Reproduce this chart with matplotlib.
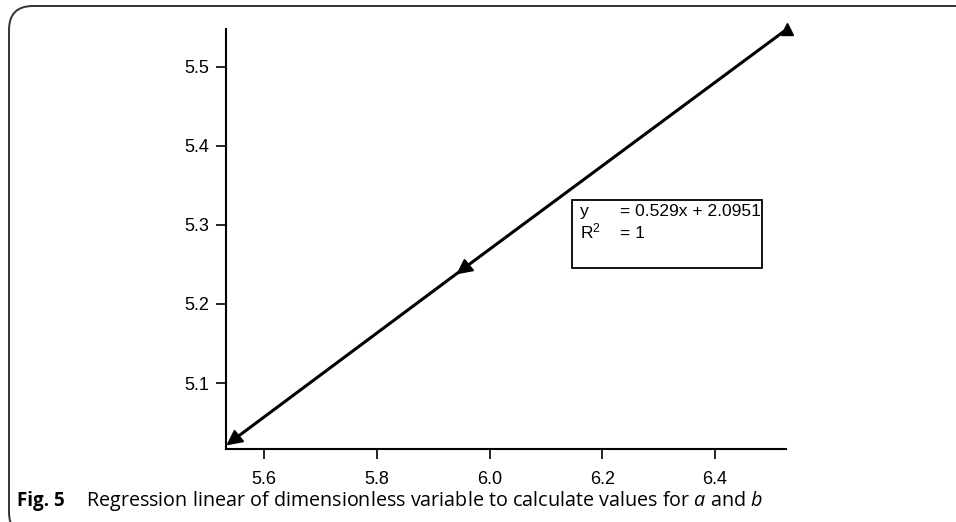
import numpy as np
import matplotlib.pyplot as plt
from matplotlib.markers import MarkerStyle
from matplotlib.transforms import Affine2D
from matplotlib.patches import FancyBboxPatch, Rectangle

# data
x_vals = [5.545, 5.952, 6.528]
y_vals = [5.028, 5.244, 5.548]
x_ticks = [5.6, 5.8, 6.0, 6.2, 6.4]
y_ticks = [5.1, 5.2, 5.3, 5.4, 5.5]
fit_text = ["y", "= 0.529x + 2.0951", "R$^2$", "= 1"]

plt.rcParams['font.family'] = ['Liberation Sans', 'DejaVu Sans']
plt.rcParams['mathtext.fontset'] = 'custom'
plt.rcParams['mathtext.it'] = 'Open Sans:italic'
plt.rcParams['mathtext.rm'] = 'Liberation Sans'

W, H = 956, 522
fig = plt.figure(figsize=(W / 100, H / 100), dpi=100)
ax = fig.add_axes([226 / W, 1 - 449 / H, (786 - 226) / W, (449 - 29) / H])

ax.plot(x_vals, y_vals, color='black', lw=2.2, zorder=2, clip_on=False)

# arrow heads point down the line, top point is a plain triangle
ang = np.degrees(np.arctan2(411, 554))
arrow = MarkerStyle('^', transform=Affine2D().rotate_deg(90 + ang))
ax.plot(x_vals[:2], y_vals[:2], ls='none', marker=arrow, ms=10, color='black',
        zorder=3, clip_on=False)
ax.plot(x_vals[2:], y_vals[2:], ls='none', marker='^', ms=9, color='black',
        zorder=3, clip_on=False)

ax.set_xlim(5.532, 6.526)
ax.set_ylim(5.0165, 5.548)
ax.set_xticks(x_ticks)
ax.set_yticks(y_ticks)
ax.set_xticklabels(['%.1f' % v for v in x_ticks])
ax.set_yticklabels(['%.1f' % v for v in y_ticks])
ax.tick_params(direction='out', length=7, width=1.2, labelsize=13)
ax.tick_params(axis='x', pad=8.5)
ax.tick_params(axis='y', pad=5)
ax.spines['top'].set_visible(False)
ax.spines['right'].set_visible(False)
for s in ['left', 'bottom']:
    ax.spines[s].set_linewidth(1.5)

# regression text box
fig.patches.append(Rectangle((572 / W, 1 - 268 / H), 190 / W, 68 / H,
                             transform=fig.transFigure, fill=False, ec='black', lw=1.3))
fig.text(580 / W, 1 - 211 / H, fit_text[0], fontsize=12.5, va='center')
fig.text(620 / W, 1 - 211 / H, fit_text[1], fontsize=12.5, va='center')
fig.text(580 / W, 1 - 231 / H, fit_text[2], fontsize=12.5, va='center')
fig.text(620 / W, 1 - 234 / H, fit_text[3], fontsize=12.5, va='center')

# outer rounded frame
frame = FancyBboxPatch((9 / W, -14 / H), 1.2, (H - 6 + 14) / H, transform=fig.transFigure,
                       boxstyle='round,pad=0,rounding_size=0.025', mutation_aspect=W / H,
                       fill=False, ec='#333333', lw=1.4)
fig.patches.append(frame)

# caption
fig.text(17 / W, 1 - 506 / H, "Fig. 5", fontsize=13.5, fontweight='bold',
         family='Open Sans', va='baseline')
fig.text(86 / W, 1 - 506 / H,
         "Regression linear of dimensionless variable to calculate values for $\\it{a}$ and $\\it{b}$",
         fontsize=14.2, family='Open Sans', va='baseline')

plt.savefig('out.png', dpi=100)
